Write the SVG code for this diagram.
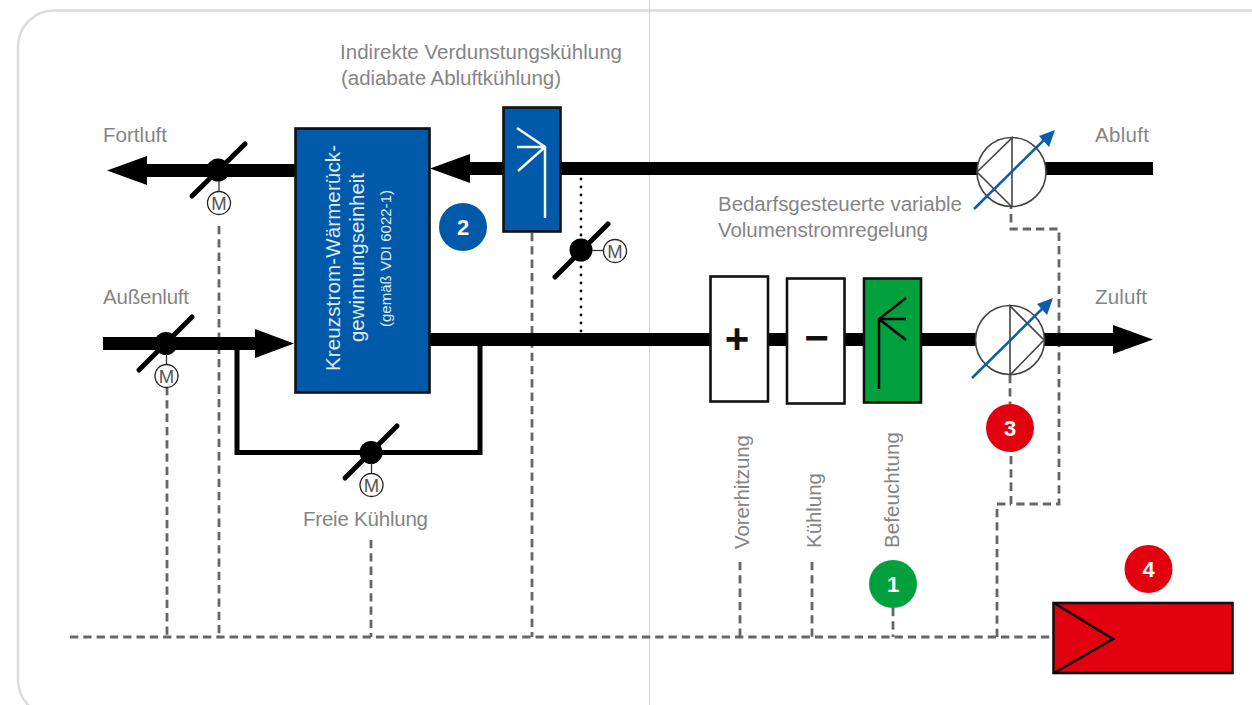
<svg xmlns="http://www.w3.org/2000/svg" width="1252" height="705" viewBox="0 0 1252 705">
<style>
text{font-family:"Liberation Sans",Arial,sans-serif;font-size:20.500px;fill:#858585}
.w{fill:#dfe9f4}
.small{font-size:15px}
.num{font-size:22px;font-weight:bold;fill:#fff;text-anchor:middle}
.m{font-size:18.500px;fill:#555;text-anchor:middle}
.sign{font-size:42px;font-weight:bold;fill:#111;text-anchor:middle}
.dash{fill:none;stroke:#666;stroke-width:2.800;stroke-dasharray:8.300 5}
.dot{fill:none;stroke:#000;stroke-width:2.800;stroke-linecap:round;stroke-dasharray:0 8}
.bar{fill:#000}
.blade{stroke:#000;stroke-width:5;stroke-linecap:round}
.mc{fill:#fff;stroke:#222;stroke-width:1.300}
.thin{stroke:#333;stroke-width:1.300}
.box{stroke:#111;stroke-width:2.600}
.fan{fill:#fff;stroke:#444;stroke-width:1.600}
.fl{fill:none;stroke:#444;stroke-width:1.600}
.ba{stroke:#0a5ea8;stroke-width:2.500}
.sym{fill:none;stroke-width:2.500}
</style>
<rect width="1252" height="705" fill="#fff"/>
<g id="frame">
<rect x="18" y="10.500" width="1300" height="705.500" rx="36" fill="none" stroke="#dcdcdc" stroke-width="2.500"/>
<line x1="649.500" y1="0" x2="649.500" y2="705" stroke="#d4d4d4" stroke-width="1.200"/>
</g>
<g id="connectors">
<path class="dash" d="M70 637H1053"/>
<path class="dash" d="M167 387V637"/>
<path class="dash" d="M219 226V637"/>
<path class="dash" d="M371 540V637"/>
<path class="dash" d="M532 233V637"/>
<path class="dash" d="M740 562V637"/>
<path class="dash" d="M812 562V637"/>
<path class="dash" d="M893 608V637"/>
<path class="dash" d="M997 637V504H1011"/>
<path class="dash" d="M1011 456V504H1059V229H1011V207"/>
<path class="dash" d="M1010 375V404"/>
<path class="dot" d="M581 179V333"/>
<path class="bar" d="M107 170.500L147 156V164H295V177H147V185Z"/>
<path class="bar" d="M430 168.500L470 154V162H1153V175H470V183Z"/>
<path class="bar" d="M103 337H255V329L294 343.500L255 358V350H103Z"/>
<path class="bar" d="M430 333H1113V325L1153 339.500L1113 354V346H430Z"/>
<path d="M237 350V452.500H480V346" fill="none" stroke="#000" stroke-width="5"/>
</g>
<g id="damper-fortluft">
<line class="blade" x1="192" y1="196" x2="245" y2="144"/><circle cx="218" cy="170" r="11.500"/>
<line class="thin" x1="219" y1="181" x2="219" y2="192"/><circle class="mc" cx="219" cy="203" r="11.500"/><text class="m" x="219" y="209.500">M</text>
</g>
<g id="damper-aussenluft">
<line class="blade" x1="139" y1="370" x2="192" y2="317"/><circle cx="166" cy="343.500" r="11.500"/>
<line class="thin" x1="166.500" y1="354" x2="166.500" y2="365"/><circle class="mc" cx="166.500" cy="376" r="11.500"/><text class="m" x="166.500" y="382.500">M</text>
</g>
<g id="damper-freie-kuehlung">
<line class="blade" x1="345" y1="478" x2="397" y2="426"/><circle cx="371" cy="452.500" r="11.500"/>
<line class="thin" x1="371.500" y1="463" x2="371.500" y2="474"/><circle class="mc" cx="371.500" cy="485" r="11.500"/><text class="m" x="371.500" y="491.500">M</text>
</g>
<g id="damper-abluftkuehlung">
<line class="blade" x1="555" y1="277" x2="608" y2="224"/><circle cx="581" cy="250" r="11.500"/>
<line class="thin" x1="592" y1="250.500" x2="604" y2="250.500"/><circle class="mc" cx="615" cy="251" r="11.500"/><text class="m" x="615" y="257.500">M</text>
</g>
<g id="waermerueckgewinnung">
<rect class="box" x="295.500" y="128.500" width="134" height="264" fill="#005aa9"/>
<text class="w" transform="translate(340 371) rotate(-90)" textLength="226">Kreuzstrom-Wärmerück-</text>
<text class="w" transform="translate(364 342) rotate(-90)" textLength="169">gewinnungseinheit</text>
<text class="w small" transform="translate(391 327) rotate(-90)" textLength="137">(gemäß VDI 6022-1)</text>
</g>
<g id="verdunstungskuehlung">
<rect class="box" x="503.500" y="107.500" width="57" height="124" fill="#005aa9"/>
<path class="sym" stroke="#f2f6fa" d="M545 218V147L517 128M545 147H517M545 147L518 171"/>
</g>
<g id="vorerhitzung">
<rect class="box" x="710.500" y="276.500" width="57.500" height="125" fill="#fff"/>
<text class="sign" x="737" y="353">+</text>
</g>
<g id="kuehlung">
<rect class="box" x="787" y="278.500" width="57.500" height="125" fill="#fff"/>
<text class="sign" x="816.500" y="352">−</text>
</g>
<g id="befeuchtung">
<rect class="box" x="864" y="278.500" width="57" height="124" fill="#00a03c"/>
<path class="sym" stroke="#000" d="M879 389V319L906 298M879 319H906M879 319L906 340"/>
</g>
<g id="ventilator-abluft">
<circle class="fan" cx="1011.500" cy="172" r="34.500"/>
<path class="fl" d="M1012 207V138L977 172L1012 207"/>
<line class="ba" x1="974" y1="209" x2="1046" y2="138"/><path fill="#0a5ea8" d="M1055 130L1049 147L1039 136Z"/>
</g>
<g id="ventilator-zuluft">
<circle class="fan" cx="1010" cy="340" r="34.500"/>
<path class="fl" d="M1010 375V306L1044 340L1010 375"/>
<line class="ba" x1="972" y1="378" x2="1044" y2="307"/><path fill="#0a5ea8" d="M1053 298L1047 315L1037 304Z"/>
</g>
<g id="regler">
<rect class="box" x="1053.500" y="603" width="179" height="70" fill="#e3000f"/>
<path fill="none" stroke="#000" stroke-width="2.500" d="M1054 603L1113 639L1054 673"/>
</g>
<g id="badge-1"><circle cx="893" cy="584" r="24" fill="#00a03c"/><text class="num" x="893" y="592">1</text></g>
<g id="badge-2"><circle cx="463" cy="227" r="24" fill="#005aa9"/><text class="num" x="463" y="235">2</text></g>
<g id="badge-3"><circle cx="1010" cy="428" r="24" fill="#e3000f"/><text class="num" x="1010" y="436">3</text></g>
<g id="badge-4"><circle cx="1148.500" cy="569" r="24" fill="#e3000f"/><text class="num" x="1148.500" y="577">4</text></g>
<g id="labels">
<text x="103" y="142" textLength="64">Fortluft</text>
<text x="103" y="304" textLength="86">Außenluft</text>
<text x="1095" y="142" textLength="54">Abluft</text>
<text x="1095" y="304" textLength="52">Zuluft</text>
<text x="340" y="59" textLength="282">Indirekte Verdunstungskühlung</text>
<text x="341" y="85" textLength="220">(adiabate Abluftkühlung)</text>
<text x="718" y="211" textLength="244">Bedarfsgesteuerte variable</text>
<text x="718" y="237" textLength="210">Volumenstromregelung</text>
<text x="303" y="526" textLength="125">Freie Kühlung</text>
<text transform="translate(749 549) rotate(-90)" textLength="114">Vorerhitzung</text>
<text transform="translate(821 548) rotate(-90)" textLength="75">Kühlung</text>
<text transform="translate(899 548) rotate(-90)" textLength="116">Befeuchtung</text>
</g>
</svg>
